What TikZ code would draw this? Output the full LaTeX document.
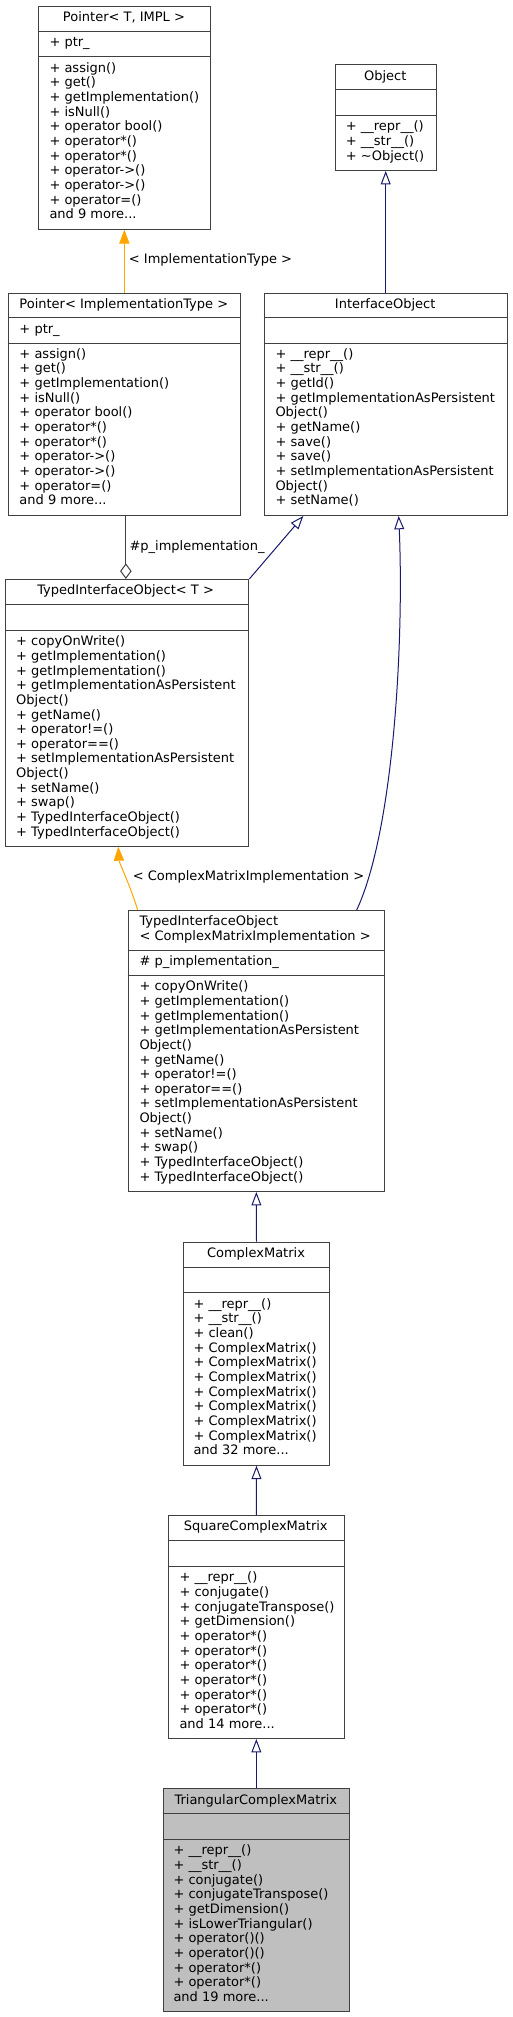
\documentclass[tikz,border=0pt]{standalone}
\usepackage{fontspec}
\setmainfont{DejaVu Sans}
\usetikzlibrary{arrows.meta,calc}
\definecolor{navyedge}{HTML}{191970}
\definecolor{orangeedge}{HTML}{FFA500}
\definecolor{boxborder}{HTML}{404040}
\definecolor{curfill}{HTML}{BFBFBF}
\newcommand\tdots{...}
\tikzset{
  cbox/.style={draw=boxborder, line width=1pt, rectangle, inner sep=0pt, anchor=north west},
  cline/.style={draw=boxborder, line width=1pt},
  txt/.style={anchor=base west, inner sep=0pt, font=\fontsize{13}{15}\selectfont, text=black},
  ttl/.style={anchor=base, inner sep=0pt, font=\fontsize{13}{15}\selectfont, text=black},
  inh/.style={draw=navyedge, line width=1pt, -{Triangle[open, length=13.3pt, width=9.8pt]}},
  tmpl/.style={draw=orangeedge, line width=1pt, -{Triangle[length=14pt, width=10.3pt, fill=orangeedge]}},
  comp/.style={draw=boxborder, line width=1pt, {Diamond[open, length=15.7pt, width=11.5pt]}-},
  elabel/.style={anchor=base west, inner sep=0pt, font=\fontsize{13}{15}\selectfont, text=black}
}
\newcommand\classbox[8]{%
  \node[cbox, fill=#8, minimum width={(#4-#2)*1pt}, minimum height={(#5-#3)*1pt}] (#1) at (#2,#3) {};
  \draw[cline] (#2,#6) -- (#4,#6) (#2,#7) -- (#4,#7);}
\newcommand\members[4]{%
  \foreach \mitem [count=\i] in {#4} {\node[txt] (#1-m\i) at (#2,{#3+(\i-1)*14.66}) {\mitem};}}
\begin{document}
\begin{tikzpicture}[x=1pt,y=-1pt]
\useasboundingbox[fill=white] (0,0) rectangle (512,2017);

% Pointer< T, IMPL >
\classbox{ptrT}{38}{5.7}{210}{228.7}{31.3}{56.7}{white}
\node[ttl] (ptrT-t) at (124,21.3) {Pointer< T, IMPL >};
\node[txt] (ptrT-a) at (49.3,46.7) {+ ptr\_};
\members{ptrT}{49.3}{72.3}{+ assign(), + get(), + getImplementation(), + isNull(), + operator bool(), + operator*(), + operator*(), + operator->(), + operator->(), + operator=(), and 9 more\tdots}

% Object
\classbox{obj}{334.7}{64.3}{436}{170}{89.7}{115.3}{white}
\node[ttl] (obj-t) at (385.3,80.7) {Object};
\members{obj}{345.7}{130.7}{+ \_\_repr\_\_(), + \_\_str\_\_(), + \textasciitilde Object()}

% Pointer< ImplementationType >
\classbox{pimpl}{7.7}{292.7}{240}{515}{317.7}{343}{white}
\node[ttl] (pimpl-t) at (123.8,308.3) {Pointer< ImplementationType >};
\node[txt] (pimpl-a) at (19.3,334) {+ ptr\_};
\members{pimpl}{19.3}{358.3}{+ assign(), + get(), + getImplementation(), + isNull(), + operator bool(), + operator*(), + operator*(), + operator->(), + operator->(), + operator=(), and 9 more\tdots}

% InterfaceObject
\classbox{iface}{263.7}{292.7}{506.7}{515}{317.7}{343}{white}
\node[ttl] (iface-t) at (385.2,308.3) {InterfaceObject};
\members{iface}{275.3}{358.3}{+ \_\_repr\_\_(), + \_\_str\_\_(), + getId(), + getImplementationAsPersistent, Object(), + getName(), + save(), + save(), + setImplementationAsPersistent, Object(), + setName()}

% TypedInterfaceObject< T >
\classbox{tiot}{5}{579}{248.3}{845.7}{604.3}{630}{white}
\node[ttl] (tiot-t) at (125.6,594.7) {TypedInterfaceObject< T >};
\members{tiot}{16}{645.7}{+ copyOnWrite(), + getImplementation(), + getImplementation(), + getImplementationAsPersistent, Object(), + getName(), + operator!=(), + operator==(), + setImplementationAsPersistent, Object(), + setName(), + swap(), + TypedInterfaceObject(), + TypedInterfaceObject()}

% TypedInterfaceObject< ComplexMatrixImplementation >
\classbox{tiocmi}{127.7}{910}{384}{1191}{950}{975.3}{white}
\node[txt] (tiocmi-t1) at (139.3,925.7) {TypedInterfaceObject};
\node[txt] (tiocmi-t2) at (139.3,940.7) {< ComplexMatrixImplementation >};
\node[txt] (tiocmi-a) at (139.3,965.7) {\# p\_implementation\_};
\members{tiocmi}{139.3}{990.7}{+ copyOnWrite(), + getImplementation(), + getImplementation(), + getImplementationAsPersistent, Object(), + getName(), + operator!=(), + operator==(), + setImplementationAsPersistent, Object(), + setName(), + swap(), + TypedInterfaceObject(), + TypedInterfaceObject()}

% ComplexMatrix
\classbox{cm}{182.7}{1241.7}{329.3}{1464.7}{1267}{1292.7}{white}
\node[ttl] (cm-t) at (256,1257.3) {ComplexMatrix};
\members{cm}{193.3}{1308.3}{+ \_\_repr\_\_(), + \_\_str\_\_(), + clean(), + ComplexMatrix(), + ComplexMatrix(), + ComplexMatrix(), + ComplexMatrix(), + ComplexMatrix(), + ComplexMatrix(), + ComplexMatrix(), and 32 more\tdots}

% SquareComplexMatrix
\classbox{sq}{167.7}{1515}{344}{1738}{1540.7}{1566}{white}
\node[ttl] (sq-t) at (255.8,1530.3) {SquareComplexMatrix};
\members{sq}{179.3}{1581.7}{+ \_\_repr\_\_(), + conjugate(), + conjugateTranspose(), + getDimension(), + operator*(), + operator*(), + operator*(), + operator*(), + operator*(), + operator*(), and 14 more\tdots}

% TriangularComplexMatrix
\classbox{tri}{162.7}{1788.3}{349}{2011}{1813.7}{1839.3}{curfill}
\node[ttl] (tri-t) at (255.8,1804.7) {TriangularComplexMatrix};
\members{tri}{173.3}{1854.7}{+ \_\_repr\_\_(), + \_\_str\_\_(), + conjugate(), + conjugateTranspose(), + getDimension(), + isLowerTriangular(), + operator()(), + operator()(), + operator*(), + operator*(), and 19 more\tdots}

% edges
\draw[tmpl] (pimpl.north) -- (pimpl.north |- ptrT.south);
\node[elabel] (lbl1) at (128.7,263.3) {< ImplementationType >};
\draw[inh] (iface.north) -- (iface.north |- obj.south);
\draw[comp] ([xshift=1.5pt]pimpl.south |- tiot.north) -- ([xshift=1.5pt]pimpl.south);
\node[elabel] (lbl2) at (129.3,550.7) {\#p\_implementation\_};
\draw[inh] (tiot.north east) -- ([xshift=39.6pt]iface.south west);
\draw[inh] ([xshift=229pt]tiocmi.north west) .. controls (394,830) and (404,640) .. ([xshift=135pt]iface.south west);
\draw[tmpl] ([xshift=10pt]tiocmi.north west) .. controls (130,885) and (119,862) .. ([xshift=113.3pt]tiot.south west);
\node[elabel] (lbl3) at (132.7,880.7) {< ComplexMatrixImplementation >};
\draw[inh] (cm.north) -- (tiocmi.south);
\draw[inh] (sq.north) -- (cm.south);
\draw[inh] (tri.north) -- (sq.south);
\end{tikzpicture}
\end{document}
